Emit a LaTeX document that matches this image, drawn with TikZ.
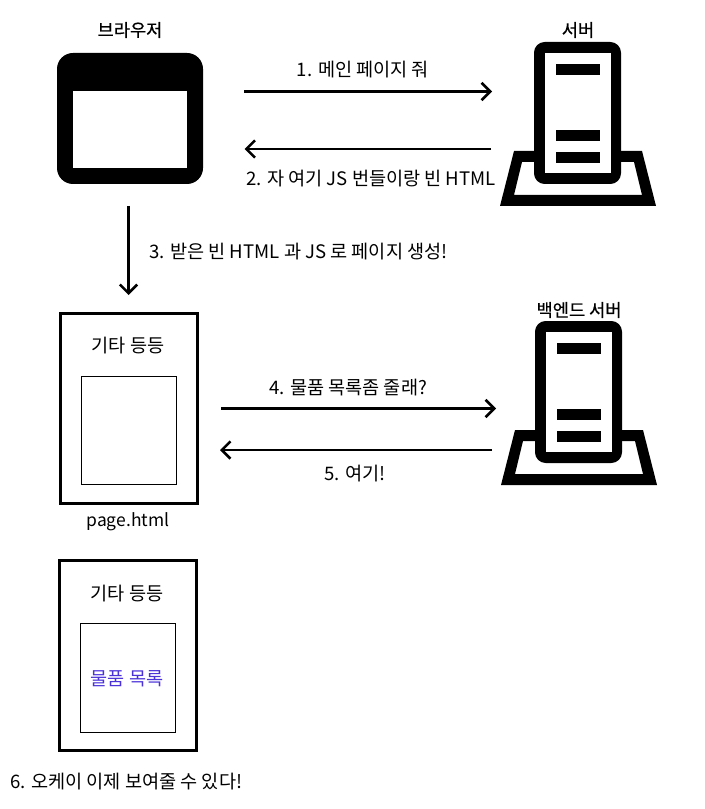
\documentclass[tikz,border=0pt]{standalone}
\usepackage{fontspec}
\usepackage{xcolor}
\setmainfont{Noto Sans CJK KR}
\newfontfamily\titlefont[FakeBold=0.5]{Noto Sans CJK KR}
\usetikzlibrary{arrows.meta}
\definecolor{listblue}{HTML}{4A32D8}

\begin{document}
\begin{tikzpicture}[
  x=0.75pt, y=-0.75pt,
  arr/.style={-{Straight Barb[length=6.5pt, width=13pt]}, line width=1.9pt},
  title/.style={font=\titlefont\fontsize{13.2}{15}\selectfont, inner sep=0pt},
  msg/.style={font=\fontsize{13.95}{16}\selectfont, inner sep=0pt},
  page/.style={draw, line width=2.25pt, minimum width=102.75pt, minimum height=142.5pt, inner sep=0pt},
  slot/.style={draw, line width=0.75pt, minimum width=71.5pt, minimum height=81pt, inner sep=0pt},
  server/.pic={
    % base, then the tower over it
    \fill[even odd rule] (500,206) -- (514,151) -- (642,151) -- (656,206) -- cycle
      (514,195) -- (522,162) -- (634,162) -- (642,195) -- cycle;
    \fill[rounded corners=8pt] (534,184) -- (534,42) -- (621,42) -- (621,184) -- cycle;
    \fill[white] (545,53) rectangle (611,173);
    \fill (556,64) rectangle (600,75);
    \fill (556,130) rectangle (600,141);
    \fill (556,152) rectangle (600,163);
  }
]
\useasboundingbox (0,0) rectangle (705,809);

\node[fill, rounded corners=12pt, minimum width=109.5pt, minimum height=98.25pt, inner sep=0pt] (browser) at (130,118.5) {};
\node[fill=white, minimum width=85.5pt, minimum height=57.75pt, inner sep=0pt] (pane) at (130,129.5) {};
\node[title] (browserlabel) at (130,30) {브라우저};

\pic (server) at (0,0) {server};
\node[title] (serverlabel) at (578,30) {서버};
\pic (backend) at (1,279) {server};
\node[title] (backendlabel) at (579,310) {백엔드 서버};

\node[page] (page) at (129.3,408.3) {};
\node[slot] (slot) at (129.3,430.1) {};
\node[msg] (etc) at (128,345.5) {기타 등등};
\node[msg, font=\fontsize{13.1}{15}\selectfont] (pagename) at (128,521.5) {page.html};

\node[page] (done) at (127.8,655.8) {};
\node[slot, minimum height=82pt] (doneslot) at (127.8,677.8) {};
\node[msg] (doneetc) at (127,593.5) {기타 등등};
\node[msg, text=listblue] (list) at (127,678.5) {물품 목록};

\node[msg] (msga) at (363,69.5) {1. 메인 페이지 줘};
\node[msg] (msgb) at (371,178.5) {2. 자 여기 JS 번들이랑 빈 HTML};
\node[msg, anchor=west] (msgc) at (149,251.5) {3. 받은 빈 HTML 과 JS 로 페이지 생성!};
\node[msg] (msgd) at (348,387.5) {4. 물품 목록좀 줄래?};
\node[msg] (msge) at (355,473.5) {5. 여기!};
\node[msg, anchor=west] (msgf) at (10,781.5) {6. 오케이 이제 보여줄 수 있다!};

\coordinate (aout) at (244,91.5);
\coordinate (ain) at (492,91.5);
\coordinate (bout) at (491,149);
\coordinate (bin) at (244.5,149);
\coordinate (cout) at (128.5,206);
\coordinate (cin) at (128.5,295);
\coordinate (dout) at (221,408.5);
\coordinate (din) at (496,408.5);
\coordinate (eout) at (492,450);
\coordinate (ein) at (220,450);

\draw[arr] (aout) -- (ain);
\draw[arr] (bout) -- (bin);
\draw[arr] (cout) -- (cin);
\draw[arr] (dout) -- (din);
\draw[arr] (eout) -- (ein);
\end{tikzpicture}
\end{document}
